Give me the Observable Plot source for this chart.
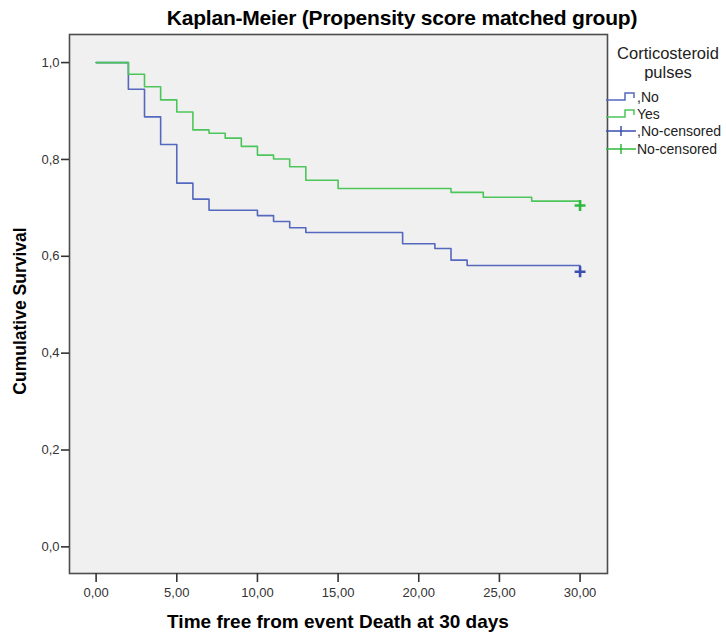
<!DOCTYPE html>
<html>
<head>
<meta charset="utf-8">
<script src="https://cdn.jsdelivr.net/npm/d3@7"></script>
<script src="https://cdn.jsdelivr.net/npm/@observablehq/plot@0.6"></script>
<style>
  html, body { margin: 0; padding: 0; background: #ffffff; }
  #wrap { position: relative; width: 726px; height: 637px; font-family: "Liberation Sans", Arial, sans-serif; }
  #wrap svg.plot { position: absolute; left: 0; top: 0; }
  .t { position: absolute; white-space: nowrap; color: #000; }
</style>
</head>
<body>
<div id="wrap"></div>
<script>
// ---- data ----
const groups = ["No", "Yes"];
const noTimes = [0, 2, 3, 4, 5, 6, 7, 10, 11, 12, 13, 19, 21, 22, 23, 30];
const noSurv  = [1, 0.945, 0.888, 0.831, 0.751, 0.718, 0.695, 0.684, 0.672, 0.659, 0.649, 0.626, 0.616, 0.592, 0.581, 0.568];
const yesTimes = [0, 2, 3, 4, 5, 6, 7, 8, 9, 10, 11, 12, 13, 15, 22, 24, 27, 30];
const yesSurv  = [1, 0.976, 0.950, 0.923, 0.898, 0.861, 0.854, 0.844, 0.827, 0.809, 0.801, 0.785, 0.757, 0.740, 0.732, 0.722, 0.714, 0.705];
const censorTimes = [30, 30];
const censorSurv = [0.568, 0.705];
const xTicks = [0, 5, 10, 15, 20, 25, 30];
const yTicks = [0, 0.2, 0.4, 0.6, 0.8, 1.0];
const legendLabels = [",No", "Yes", ",No-censored", "No-censored"];

const lineColor = {No: "#5468be", Yes: "#4cc55a"};
const censorColor = {No: "#3a4fb0", Yes: "#2fb83e"};

const noData = noTimes.map((t, i) => ({t, s: noSurv[i], g: "No"}));
const yesData = yesTimes.map((t, i) => ({t, s: yesSurv[i], g: "Yes"}));
const censData = censorTimes.map((t, i) => ({t, s: censorSurv[i], g: groups[i]}));

const comma = (f) => (d) => d3.format(f)(d).replace(".", ",");

const chart = Plot.plot({
  width: 726,
  height: 637,
  marginLeft: 69,
  marginRight: 119,
  marginTop: 34,
  marginBottom: 64,
  x: {domain: [-1.65, 31.7]},
  y: {domain: [-0.055, 1.058]},
  style: {fontFamily: "Liberation Sans, Arial, sans-serif", fontSize: "13px", color: "#333", background: "transparent"},
  marks: [
    Plot.frame({fill: "#f0f0f0", stroke: "#4d4d4d", strokeWidth: 1.6}),
    Plot.axisX({ticks: xTicks, tickFormat: comma(".2f"), tickSize: 9, tickPadding: 5, label: null, stroke: "#333", strokeWidth: 1.6, fill: "#333", fontSize: 13}),
    Plot.axisY({ticks: yTicks, tickFormat: comma(".1f"), tickSize: 8, tickPadding: 2, label: null, stroke: "#333", strokeWidth: 1.6, fill: "#333", fontSize: 13}),
    Plot.line(noData, {x: "t", y: "s", curve: "step-after", stroke: lineColor.No, strokeWidth: 1.6}),
    Plot.line(yesData, {x: "t", y: "s", curve: "step-after", stroke: lineColor.Yes, strokeWidth: 1.6}),
    Plot.dot(censData, {x: "t", y: "s", symbol: "plus", r: 3.6, stroke: (d) => censorColor[d.g], strokeWidth: 2.6})
  ]
});
chart.classList.add("plot");

const wrap = document.getElementById("wrap");
wrap.appendChild(chart);

function addText(txt, css) {
  const d = document.createElement("div");
  d.className = "t";
  d.textContent = txt;
  Object.assign(d.style, css);
  wrap.appendChild(d);
  return d;
}

// title
addText("Kaplan-Meier (Propensity score matched group)", {
  left: "402px", top: "18px", transform: "translate(-50%,-50%)", fontSize: "21px", fontWeight: "bold", letterSpacing: "-0.2px"
});
// x axis title
addText("Time free from event Death at 30 days", {
  left: "338px", top: "622px", transform: "translate(-50%,-50%)", fontSize: "19px", fontWeight: "bold"
});
// y axis title
addText("Cumulative Survival", {
  left: "20px", top: "311px", transform: "translate(-50%,-50%) rotate(-90deg)", fontSize: "17.5px", fontWeight: "bold"
});

// legend
addText("Corticosteroid", {left: "668px", top: "53px", transform: "translate(-50%,-50%)", fontSize: "16.5px", color: "#222"});
addText("pulses", {left: "668px", top: "72px", transform: "translate(-50%,-50%)", fontSize: "16.5px", color: "#222"});

const legendY = [97, 114, 131, 149];
const ns = "http://www.w3.org/2000/svg";
const lsvg = document.createElementNS(ns, "svg");
lsvg.setAttribute("width", 726);
lsvg.setAttribute("height", 637);
Object.assign(lsvg.style, {position: "absolute", left: "0px", top: "0px", pointerEvents: "none"});
wrap.appendChild(lsvg);
legendLabels.forEach((lab, i) => {
  const cy = legendY[i];
  const g = i % 2 === 0 ? "No" : "Yes";
  const p = document.createElementNS(ns, "path");
  if (i < 2) {
    p.setAttribute("d", `M606,${cy + 3}H625V${cy - 4}H634V${cy + 1}`);
    p.setAttribute("stroke", lineColor[g]);
    p.setAttribute("stroke-width", 1.5);
  } else {
    p.setAttribute("d", `M606,${cy}H636M621,${cy - 5}V${cy + 5}`);
    p.setAttribute("stroke", censorColor[g]);
    p.setAttribute("stroke-width", 1.5);
  }
  p.setAttribute("fill", "none");
  lsvg.appendChild(p);
  addText(lab, {left: "637px", top: cy + "px", transform: "translateY(-50%)", fontSize: "14px", color: "#222"});
});
</script>
</body>
</html>
